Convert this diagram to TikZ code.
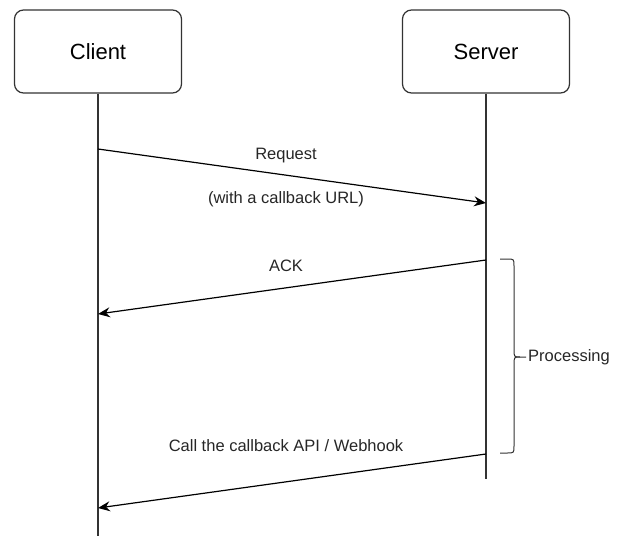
\documentclass[tikz,border=0pt]{standalone}
\usepackage{fontspec}
\setmainfont{Liberation Sans}
\usepackage{tikz}
\usetikzlibrary{arrows.meta}
\tikzstyle{actor} = [draw=black!80,line width=1.2pt,rounded corners=9pt,minimum width=167pt,minimum height=83pt,font=\fontsize{22}{26}\selectfont]
\tikzstyle{lifeline} = [draw=black!80,line width=1.2pt]
\tikzstyle{message} = [line width=1.2pt,-{Stealth[length=12pt,width=10pt,inset=4pt]}]
\tikzstyle{label} = [font=\fontsize{16.5}{20}\selectfont,text=black!85]

\begin{document}
\begin{tikzpicture}[x=1pt,y=-1pt]
            \useasboundingbox (0,0) rectangle (625,544);
            % participants
            \node[actor] (client) at (98,51.5) {Client};
            \node[actor] (server) at (486,51.5) {Server};
            \coordinate (clientend) at (98,536);
            \coordinate (serverend) at (486,479);
            \draw[lifeline] (client.south) -- (clientend);
            \draw[lifeline] (server.south) -- (serverend);
            % message points
            \coordinate (c1) at (98,149);
            \coordinate (s1) at (486,203);
            \coordinate (s2) at (486,260);
            \coordinate (c2) at (98,314);
            \coordinate (s3) at (486,454);
            \coordinate (c3) at (98,508);
            \draw[message] (c1) -- (s1);
            \draw[message] (s2) -- (c2);
            \draw[message] (s3) -- (c3);
            \node[label] (request) at (286,156) {Request};
            \node[label] (callbackurl) at (286,199) {(with a callback URL)};
            \node[label] (ack) at (286,266) {ACK};
            \node[label] (webhook) at (286,446) {Call the callback API / Webhook};
            % processing brace
            \coordinate (btop) at (500,259);
            \coordinate (bbottom) at (500,453);
            \coordinate (btip) at (526,357);
            \draw[lifeline,line width=1pt] (btop) -- (507,259) .. controls (514,259) .. (514,266)
                -- (514,349) .. controls (514,357) .. (520,357) -- (btip);
            \draw[lifeline,line width=1pt] (bbottom) -- (507,453) .. controls (514,453) .. (514,446)
                -- (514,365) .. controls (514,357) .. (520,357);
            \node[label,anchor=west,inner sep=0pt] (processing) at (528,357) {Processing};
        \end{tikzpicture}
\end{document}
